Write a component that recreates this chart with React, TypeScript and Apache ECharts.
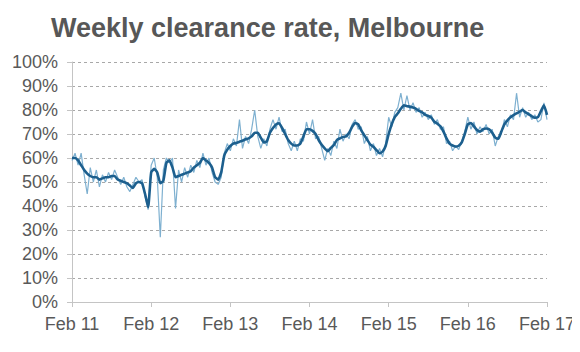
import React, { useEffect, useRef } from "react";
import * as echarts from "echarts";

// Fortnightly readings, Feb 2011 -> Feb 2017 (26 per year)
const weeklyRate: number[] = [
  59, 62, 57, 62, 53, 45, 56, 50, 55, 48, 53, 50, 54, 51, 55, 52, 49, 52, 48, 46, 49, 52, 50, 51, 44, 38.5,
  57, 60, 52, 27, 55, 60, 58, 60, 39, 55, 50, 56, 52, 57, 54, 59, 56, 62, 57, 60, 54, 50, 49, 52, 62, 66,
  63, 68, 65, 76, 64, 69, 66, 72, 80, 69, 64, 68, 65, 72, 76, 72, 77, 71, 72, 66, 63, 67, 63, 68, 67, 75,
  70, 76, 68, 69, 64, 59, 64, 61, 67, 64, 72, 67, 70, 68, 74, 76, 72, 73, 66, 69, 63, 66, 61, 64, 60.5, 66,
  77, 73, 79, 81, 87, 80, 86, 80, 83, 79, 81, 77, 79, 76, 78, 74, 76, 72, 73, 66, 67, 63, 65, 63.5, 67, 71,
  77, 72, 75, 70, 73, 71, 74, 70, 72, 65, 69, 70, 76, 73, 78, 76, 87, 77, 81, 77, 79, 76, 78, 75, 76, 83,
  76,
];

const smoothedRate: number[] = [
  60, 60, 59, 57, 55, 53.5, 52.5, 52, 52, 51, 51.5, 52, 52, 52.5, 52.5, 51, 50.5, 50, 49.5, 48.5, 47.5, 49.5, 50, 49.5, 45, 39.5,
  54, 55.5, 54, 49.5, 50.5, 58, 59, 56, 52, 52.5, 53, 53.5, 54, 54.5, 56, 57, 58, 60, 59, 58, 56, 52, 51, 54, 61, 63.5,
  65, 66, 66.3, 66.8, 67.2, 67.8, 68.2, 69, 70.5, 70.5, 68.5, 66.5, 67, 70.5, 72.5, 74, 74.5, 72.5, 70, 67.5, 66, 65.2, 65.2, 66, 69, 72,
  72, 71.3, 70, 67.5, 65.5, 64, 62.8, 64.2, 65.4, 67.5, 68.2, 68.8, 69, 70.5, 73, 74.6, 74, 71.5, 69.5, 67.5, 65.6, 64.7, 63.3, 62, 62.7, 65,
  70, 74, 77, 78.6, 80.5, 82, 81.6, 81.4, 81, 80.5, 79.6, 79, 78, 77.5, 76.8, 75.1, 74.3, 73.2, 71, 68.2, 66, 65.2, 64.8, 65.1, 66.5, 70,
  74, 74.6, 73.2, 71.7, 71, 72, 72.3, 72, 70.5, 68.5, 68, 71, 74, 75.7, 77, 77.9, 78.6, 79.3, 80, 79, 78.2, 77.4, 76.8, 77, 79.5, 82,
  78,
];

const xTickLabels: string[] = ["Feb 11", "Feb 12", "Feb 13", "Feb 14", "Feb 15", "Feb 16", "Feb 17"];
const periodsPerYear = 26;

const FONT = "'Liberation Sans', Arial, sans-serif";

export default function App() {
  const ref = useRef<HTMLDivElement>(null);
  useEffect(() => {
    if (!ref.current) return;
    const chart = echarts.init(ref.current, null, { renderer: "svg" });
    const toPairs = (arr: number[]) => arr.map((v, i) => [i / periodsPerYear, v]);
    chart.setOption({
      animation: false,
      backgroundColor: "#ffffff",
      title: {
        text: "Weekly clearance rate, Melbourne",
        left: 46,
        top: 9,
        textStyle: { fontFamily: FONT, fontSize: 27, fontWeight: "bold", color: "#575757" },
      },
      grid: { left: 72, right: 33, top: 62, bottom: 50, containLabel: false },
      xAxis: {
        type: "value",
        min: 0,
        max: 6,
        interval: 1,
        axisLine: { show: true, lineStyle: { color: "#c4c4c4", width: 1 } },
        axisTick: { show: true, length: 5, lineStyle: { color: "#c4c4c4" } },
        splitLine: { show: false },
        axisLabel: {
          margin: 13,
          fontFamily: FONT,
          fontSize: 18,
          color: "#595959",
          formatter: (v: number) => xTickLabels[Math.round(v)] ?? "",
        },
      },
      yAxis: {
        type: "value",
        min: 0,
        max: 100,
        interval: 10,
        axisLine: { show: true, lineStyle: { color: "#c4c4c4", width: 1 } },
        axisTick: { show: true, length: 5, lineStyle: { color: "#c4c4c4" } },
        splitLine: { show: true, lineStyle: { color: "#a8a8a8", type: [3, 3], width: 1 } },
        axisLabel: {
          margin: 14,
          fontFamily: FONT,
          fontSize: 18,
          color: "#595959",
          formatter: "{value}%",
        },
      },
      series: [
        {
          name: "Weekly",
          type: "line",
          data: toPairs(weeklyRate),
          showSymbol: false,
          lineStyle: { color: "#7eb0d0", width: 1.2 },
          z: 2,
        },
        {
          name: "Smoothed",
          type: "line",
          data: toPairs(smoothedRate),
          showSymbol: false,
          smooth: 0.15,
          lineStyle: { color: "#1c5f8e", width: 2.6 },
          z: 3,
        },
      ],
    });
    return () => chart.dispose();
  }, []);
  return <div ref={ref} style={{ width: 580, height: 352, marginLeft: -8, marginTop: -8 }} />;
}
